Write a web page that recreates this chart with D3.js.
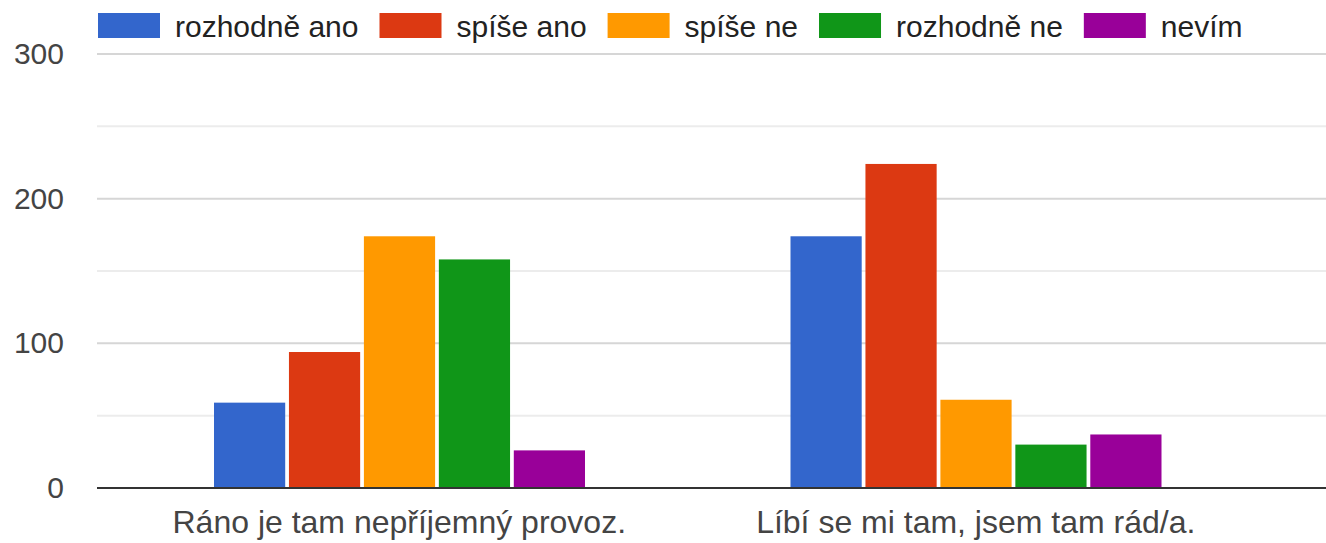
<!DOCTYPE html>
<html>
<head>
<meta charset="utf-8">
<script src="https://cdn.jsdelivr.net/npm/d3@7/dist/d3.min.js"></script>
<style>
  body { margin: 0; background: #fff; }
  svg text { font-family: "Liberation Sans", Arial, sans-serif; }
</style>
</head>
<body>
<svg id="chart" width="1326" height="543"></svg>
<script>
// data
const categories = ['Ráno je tam nepříjemný provoz.', 'Líbí se mi tam, jsem tam rád/a.'];
const seriesNames = ['rozhodně ano', 'spíše ano', 'spíše ne', 'rozhodně ne', 'nevím'];
const colours = ['#3366cc', '#dc3912', '#ff9900', '#109618', '#990099'];
const rozhodneAno = [59, 174];
const spiseAno = [94, 224];
const spiseNe = [174, 61];
const rozhodneNe = [158, 30];
const nevim = [26, 37];
const yTicks = [0, 100, 200, 300];

const seriesValues = [rozhodneAno, spiseAno, spiseNe, rozhodneNe, nevim];

const chartW = 1326;
const plotLeft = 97, plotBottom = 488, plotTop = 54;

const svg = d3.select('#chart');

let y = d3.scaleLinear().domain([0, 300]).range([plotBottom, plotTop]);

let x0 = d3.scaleBand().domain(categories).range([111, 1264]);
let x1 = d3.scaleBand().domain(seriesNames).range([103, 474]).paddingInner(0.05);

// gridlines, every 50, the 100s a bit darker
const grid = svg.append('g');
d3.range(50, 301, 50).forEach(v => {
  grid.append('line')
    .attr('x1', plotLeft).attr('x2', chartW)
    .attr('y1', y(v)).attr('y2', y(v))
    .attr('stroke', v % 100 === 0 ? '#d6d6d6' : '#ececec')
    .attr('stroke-width', 2);
});

// y tick labels
const yAxis = svg.append('g')
  .attr('transform', `translate(${plotLeft},0)`)
  .call(d3.axisLeft(y).tickValues(yTicks).tickSize(0).tickPadding(33));
yAxis.select('.domain').remove();
yAxis.selectAll('text')
  .attr('font-size', 30)
  .attr('font-family', '"Liberation Sans", Arial, sans-serif')
  .attr('fill', '#444');

// bars
categories.forEach((cat, ci) => {
  const g = svg.append('g').attr('transform', `translate(${x0(cat)},0)`);
  seriesNames.forEach((name, si) => {
    const v = seriesValues[si][ci];
    g.append('rect')
      .attr('x', x1(name))
      .attr('y', y(v))
      .attr('width', x1.bandwidth())
      .attr('height', y(0) - y(v))
      .attr('fill', colours[si]);
  });
});

// baseline
svg.append('line')
  .attr('x1', plotLeft).attr('x2', chartW)
  .attr('y1', y(0)).attr('y2', y(0))
  .attr('stroke', '#333').attr('stroke-width', 2);

// category labels
const xAxis = svg.append('g')
  .attr('transform', `translate(0,${plotBottom})`)
  .call(d3.axisBottom(x0).tickSize(0).tickPadding(22));
xAxis.select('.domain').remove();
xAxis.selectAll('text')
  .attr('font-size', 32)
  .attr('font-family', '"Liberation Sans", Arial, sans-serif')
  .attr('fill', '#444');

// legend
const legend = svg.append('g');
let lx = 98;
seriesNames.forEach((name, i) => {
  legend.append('rect')
    .attr('x', lx).attr('y', 13)
    .attr('width', 62).attr('height', 25)
    .attr('fill', colours[i]);
  const t = legend.append('text')
    .attr('x', lx + 77).attr('y', 37)
    .attr('font-size', 30)
    .attr('fill', '#222')
    .text(name);
  lx += 77 + t.node().getComputedTextLength() + 21;
});
</script>
</body>
</html>
